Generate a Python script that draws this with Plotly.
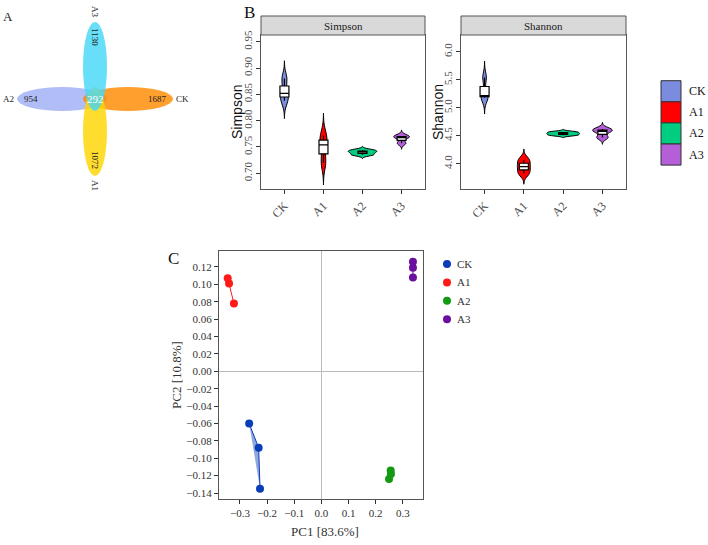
import numpy as np
import plotly.graph_objects as go

W, H = 708, 545
def px(x): return x / W
def py(y): return 1 - y / H

# ---------------- data ----------------
groups = ["CK", "A1", "A2", "A3"]
violin_colors = ["#7B8CDE", "#FF0000", "#00CD80", "#B45FD8"]
pca_colors = ["#0A3DB8", "#FF1A1A", "#139A13", "#6A0F9E"]

simpson_CK = [0.838, 0.852, 0.880]
simpson_A1 = [0.720, 0.754, 0.772]
simpson_A2 = [0.735, 0.740, 0.744]
simpson_A3 = [0.757, 0.768, 0.771]

shannon_CK = [5.18, 5.22, 5.54]
shannon_A1 = [3.83, 3.95, 4.07]
shannon_A2 = [4.51, 4.54, 4.57]
shannon_A3 = [4.47, 4.58, 4.62]

pc1_CK = [-0.266, -0.231, -0.226]
pc2_CK = [-0.060, -0.088, -0.135]
pc1_A1 = [-0.345, -0.340, -0.322]
pc2_A1 = [0.107, 0.101, 0.078]
pc1_A2 = [0.255, 0.256, 0.249]
pc2_A2 = [-0.114, -0.118, -0.124]
pc1_A3 = [0.337, 0.337, 0.337]
pc2_A3 = [0.126, 0.119, 0.108]

venn_labels = ["A3", "A2", "CK", "A1"]
venn_unique = [1130, 954, 1687, 1072]
venn_core = 292

# --------------- styles ---------------
serif = "Liberation Serif"
sans = "Liberation Sans"
simpson_widths = [0.20, 0.18, 0.73, 0.40]
shannon_widths = [0.18, 0.33, 0.83, 0.50]
box_width = 0.23

fig = go.Figure()

def nrd0(v):
    v = np.asarray(v, float)
    sd = v.std(ddof=1)
    iqr = np.percentile(v, 75) - np.percentile(v, 25)
    return 0.9 * min(sd, iqr / 1.34) * len(v) ** (-0.2)

def add_violins(data, widths, xa, ya):
    for g, vals, col, w in zip(groups, data, violin_colors, widths):
        bw = nrd0(vals)
        fig.add_trace(go.Violin(
            x=[g] * len(vals), y=vals, xaxis=xa, yaxis=ya,
            bandwidth=bw, spanmode="manual",
            span=[min(vals) - 3 * bw, max(vals) + 3 * bw],
            width=w, fillcolor=col, line=dict(color="black", width=1),
            points=False, showlegend=False, hoverinfo="skip", opacity=1))
    for g, vals in zip(groups, data):
        fig.add_trace(go.Box(
            x=[g] * len(vals), y=vals, xaxis=xa, yaxis=ya,
            width=box_width, fillcolor="white", boxpoints=False,
            quartilemethod="inclusive", whiskerwidth=0,
            line=dict(color="black", width=1.2),
            showlegend=False, hoverinfo="skip"))

add_violins([simpson_CK, simpson_A1, simpson_A2, simpson_A3], simpson_widths, "x", "y")
add_violins([shannon_CK, shannon_A1, shannon_A2, shannon_A3], shannon_widths, "x2", "y2")

# PCA
pcs = [(pc1_CK, pc2_CK), (pc1_A1, pc2_A1), (pc1_A2, pc2_A2), (pc1_A3, pc2_A3)]
def rgba(hexc, a):
    h = hexc.lstrip("#")
    return f"rgba({int(h[0:2],16)},{int(h[2:4],16)},{int(h[4:6],16)},{a})"
for g, (xs, ys), col in zip(groups, pcs, pca_colors):
    fig.add_trace(go.Scatter(x=xs, y=ys, xaxis="x3", yaxis="y3", mode="lines",
                             fill="toself", fillcolor=rgba(col, 0.45),
                             line=dict(color=col, width=1), showlegend=False,
                             hoverinfo="skip"))
for g, (xs, ys), col in zip(groups, pcs, pca_colors):
    fig.add_trace(go.Scatter(x=xs, y=ys, xaxis="x3", yaxis="y3", mode="markers",
                             marker=dict(color=col, size=8), name=g, showlegend=False))

# Venn invisible carrier trace
fig.add_trace(go.Scatter(x=[0], y=[0], xaxis="x4", yaxis="y4", mode="markers",
                         marker=dict(opacity=0), showlegend=False, hoverinfo="skip"))

shapes = []
annotations = []

def ann(x, y, text, size, color="#222", family=serif, angle=0, xanchor="center",
        xref="paper", yref="paper"):
    annotations.append(dict(x=x, y=y, xref=xref, yref=yref, text=text, showarrow=False,
                            textangle=angle, xanchor=xanchor, yanchor="middle",
                            font=dict(family=family, size=size, color=color)))

# ---- Venn (panel A) in pixel-like units ----
venn_ell = {
    "A2": ((17, 87), (107, 111), "#9FAEF5"),
    "CK": ((83, 87), (173, 111), "#FF8A00"),
    "A1": ((83, 87), (107, 176), "#FFD500"),
    "A3": ((83, 22), (107, 111), "#45D8F7"),
}
for k in ["A2", "CK", "A1", "A3"]:
    (x0, y0), (x1, y1), c = venn_ell[k]
    shapes.append(dict(type="circle", xref="x4", yref="y4", x0=x0, y0=y0, x1=x1, y1=y1,
                       fillcolor=c, opacity=0.82, line=dict(width=0), layer="above"))
venn_text_pos = {
    "A3": ((95, 12), (95, 37), 90),
    "A2": ((8, 99), (31, 99), 0),
    "CK": ((182, 99), (157, 99), 0),
    "A1": ((95, 185), (95, 160), 90),
}
for lab, num in zip(venn_labels, venn_unique):
    (lx, ly), (nx, ny), ang = venn_text_pos[lab]
    ann(lx, ly, lab, 9, angle=ang, xref="x4", yref="y4")
    ann(nx, ny, str(num), 9, angle=ang, xref="x4", yref="y4")
ann(95, 99, str(venn_core), 11, color="white", xref="x4", yref="y4")

# Panel labels
ann(px(8), py(17), "A", 13)
ann(px(249), py(13), "B", 17, color="#111")
ann(px(173), py(258), "C", 17, color="#111")

# Strips
for (x0, x1, lab) in [(261, 425, "Simpson"), (461, 626, "Shannon")]:
    shapes.append(dict(type="rect", xref="paper", yref="paper", x0=px(x0), x1=px(x1),
                       y0=py(35), y1=py(16), fillcolor="#D9D9D9",
                       line=dict(color="#555555", width=1)))
    ann(px((x0 + x1) / 2), py(25.5), lab, 11, color="#1A1A1A")

# Violin y titles
for (x, lab) in [(237, "Simpson"), (438, "Shannon")]:
    ann(px(x), py(112), lab, 14, color="#111", family=sans, angle=-90)

# Legend B
for i, (g, c) in enumerate(zip(groups, violin_colors)):
    y0 = 80.7 + i * 21.1
    shapes.append(dict(type="rect", xref="paper", yref="paper", x0=px(661), x1=px(681),
                       y0=py(y0 + 21.1), y1=py(y0), fillcolor=c,
                       line=dict(color="#333333", width=1)))
    ann(px(687), py(y0 + 10.5), g, 12, color="#111", xanchor="left")

# Legend C
for i, (g, c) in enumerate(zip(groups, pca_colors)):
    cy = 264 + i * 18.4
    shapes.append(dict(type="circle", xref="paper", yref="paper", x0=px(443), x1=px(451),
                       y0=py(cy + 4), y1=py(cy - 4), fillcolor=c, line=dict(width=0)))
    ann(px(455), py(cy), g, 11, color="#333", xanchor="left")

# PCA axis titles
ann(px(325), py(531), "PC1 [83.6%]", 13, color="#333")
ann(px(176), py(375), "PC2 [10.8%]", 13, color="#333", angle=-90)

tickfont_v = dict(family=serif, size=11, color="#4D4D4D")
tickfont_p = dict(family=serif, size=11, color="#333333")
border = "#555555"

cat_x = dict(type="category", categoryorder="array", categoryarray=groups,
             range=[-0.6, 3.6], showline=True, mirror=True, linecolor=border, linewidth=1,
             ticks="outside", ticklen=4, tickcolor="#333", tickangle=-45,
             tickfont=dict(family=serif, size=12, color="#4D4D4D"),
             showgrid=False, zeroline=False, fixedrange=True, automargin=False)

fig.update_layout(
    template="none",
    width=W, height=H, margin=dict(l=0, r=0, t=0, b=0, autoexpand=False),
    paper_bgcolor="white", plot_bgcolor="white",
    violinmode="overlay", boxmode="overlay", showlegend=False,
    xaxis=dict(domain=[px(261), px(425)], anchor="y", **cat_x),
    yaxis=dict(domain=[py(189), py(35)], anchor="x", range=[0.67, 0.963],
               tickvals=[0.70, 0.75, 0.80, 0.85, 0.90, 0.95], tickformat=".2f",
               tickangle=-90, tickfont=tickfont_v, ticks="outside", ticklen=4, tickcolor="#333",
               showline=True, mirror=True, linecolor=border, showgrid=False, zeroline=False,
               automargin=False),
    xaxis2=dict(domain=[px(461), px(626)], anchor="y2", **cat_x),
    yaxis2=dict(domain=[py(189), py(35)], anchor="x2", range=[3.55, 6.30],
                tickvals=[4.0, 4.5, 5.0, 5.5, 6.0], tickformat=".1f",
                tickangle=-90, tickfont=tickfont_v, ticks="outside", ticklen=4, tickcolor="#333",
                showline=True, mirror=True, linecolor=border, showgrid=False, zeroline=False,
                automargin=False),
    xaxis3=dict(domain=[px(219), px(423)], anchor="y3", range=[-0.377, 0.374],
                tickvals=[-0.3, -0.2, -0.1, 0.0, 0.1, 0.2, 0.3], tickformat=".1f",
                tickfont=tickfont_p, ticks="outside", ticklen=4, tickcolor="#333",
                showline=True, mirror=True, linecolor=border, showgrid=False,
                zeroline=True, zerolinecolor="#BBBBBB", zerolinewidth=1, automargin=False),
    yaxis3=dict(domain=[py(499), py(251)], anchor="x3", range=[-0.1469, 0.1384],
                tick0=0, dtick=0.02, tickformat=".2f",
                tickfont=tickfont_p, ticks="outside", ticklen=4, tickcolor="#333",
                showline=True, mirror=True, linecolor=border, showgrid=False,
                zeroline=True, zerolinecolor="#BBBBBB", zerolinewidth=1, automargin=False),
    xaxis4=dict(domain=[0, px(200)], anchor="y4", range=[0, 200], visible=False,
                automargin=False),
    yaxis4=dict(domain=[py(200), 1], anchor="x4", range=[200, 0], visible=False,
                automargin=False),
    shapes=shapes, annotations=annotations,
)

fig.write_html("out.html")
